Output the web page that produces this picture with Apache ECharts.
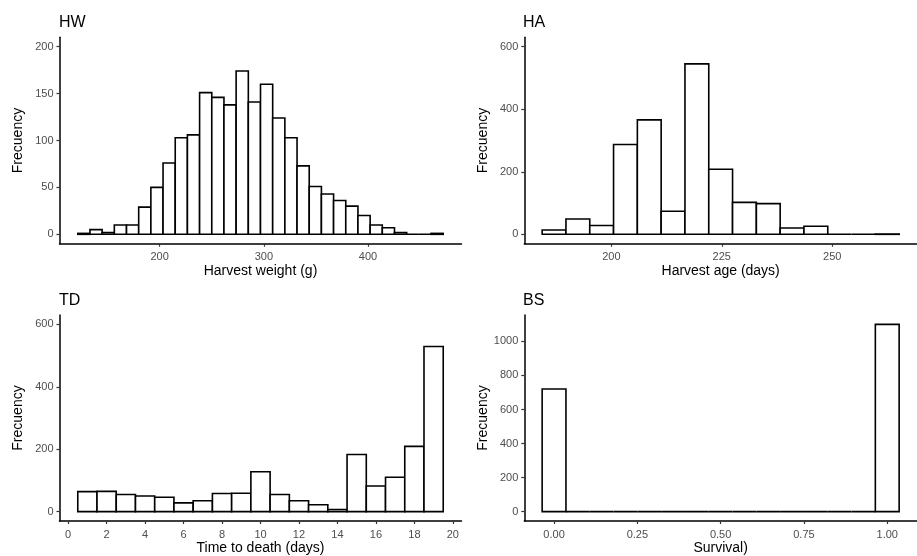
<!DOCTYPE html>
<html>
<head>
<meta charset="utf-8">
<script src="https://cdn.jsdelivr.net/npm/echarts@6/dist/echarts.min.js"></script>
<style>html,body{margin:0;padding:0;background:#fff}#c{width:917px;height:556px}</style>
</head>
<body>
<div id="c"></div>
<script>
// ---- Data ----
const panelTitles = ['HW', 'HA', 'TD', 'BS'];
const xTitles = ['Harvest weight (g)', 'Harvest age (days)', 'Time to death (days)', 'Survival)'];
const yTitle = 'Frecuency';

// HW: 30 bins
const hwBinStart = 121.45;
const hwBinWidth = 11.69;
const hwCounts = [1, 5, 2, 10, 10, 29, 50, 76, 103, 106, 151, 146, 138, 174, 141,
                  160, 124, 103, 73, 51, 43, 36, 30, 20, 10, 7, 2, 0, 0, 1];
const hwXTicks = [200, 300, 400];
const hwYTicks = [0, 50, 100, 150, 200];

// HA: 15 bins
const haBinStart = 184.34;
const haBinWidth = 5.387;
const haCounts = [14, 49, 28, 287, 366, 74, 545, 208, 102, 98, 20, 26, 0, 0, 1];
const haXTicks = [200, 225, 250];
const haYTicks = [0, 200, 400, 600];

// TD: 19 bins of width 1 centred on days 1..19
const tdBinStart = 0.5;
const tdBinWidth = 1;
const tdCounts = [64, 65, 55, 50, 46, 28, 35, 58, 59, 128, 55, 35, 22, 7, 183, 82, 110, 209, 529];
const tdXTicks = [0, 2, 4, 6, 8, 10, 12, 14, 16, 18, 20];
const tdYTicks = [0, 200, 400, 600];

// BS: 15 bins of width 1/14 centred on 0 .. 1
const bsBinStart = -1 / 28;
const bsBinWidth = 1 / 14;
const bsCounts = [720, 0, 0, 0, 0, 0, 0, 0, 0, 0, 0, 0, 0, 0, 1100];
const bsXTicks = [0, 0.25, 0.5, 0.75, 1];
const bsYTicks = [0, 200, 400, 600, 800, 1000];

// ---- Build ----
function bins(start, width, counts) {
  return counts.map((c, i) => [start + i * width, start + (i + 1) * width, c]);
}
const panels = [
  { data: bins(hwBinStart, hwBinWidth, hwCounts), xMin: 103.9, xMax: 489.7, yMin: -10, yMax: 210, xt: hwXTicks, yt: hwYTicks },
  { data: bins(haBinStart, haBinWidth, haCounts), xMin: 180.3, xMax: 269.18, yMin: -30, yMax: 630, xt: haXTicks, yt: haYTicks },
  { data: bins(tdBinStart, tdBinWidth, tdCounts), xMin: -0.45, xMax: 20.45, yMin: -30, yMax: 630, xt: tdXTicks, yt: tdYTicks },
  { data: bins(bsBinStart, bsBinWidth, bsCounts), xMin: -0.0893, xMax: 1.0893, yMin: -55, yMax: 1155, xt: bsXTicks, yt: bsYTicks,
    fmt: v => Number(v).toFixed(2) }
];
const gridPos = [
  { left: 59.5, top: 37.3, width: 402, height: 206.4 },
  { left: 524.3, top: 37.3, width: 402, height: 206.4 },
  { left: 59.5, top: 315, width: 402, height: 207.2 },
  { left: 524.3, top: 315, width: 402, height: 207.2 }
];
const titlePos = [
  { left: 59, top: 15 }, { left: 523, top: 15 }, { left: 59, top: 293 }, { left: 523, top: 293 }
];
const FONT = '"Liberation Sans", Arial, sans-serif';

const option = {
  backgroundColor: '#fff',
  animation: false,
  title: panelTitles.map((t, i) => ({
    text: t, left: titlePos[i].left, top: titlePos[i].top, padding: 0,
    textStyle: { fontSize: 16, fontWeight: 'normal', color: '#000', fontFamily: FONT }
  })),
  grid: gridPos.map(g => Object.assign({ containLabel: false }, g)),
  xAxis: panels.map((p, i) => ({
    gridIndex: i, type: 'value', min: p.xMin, max: p.xMax,
    axisLine: { show: true, onZero: false, lineStyle: { color: '#000', width: 1.5 } },
    axisTick: { show: true, length: 3, customValues: p.xt, lineStyle: { color: '#333', width: 1.2 } },
    axisLabel: { customValues: p.xt, color: '#4d4d4d', fontSize: 11, margin: 8, fontFamily: FONT,
      formatter: p.fmt || (v => String(v)) },
    splitLine: { show: false },
    name: xTitles[i], nameLocation: 'middle', nameGap: 20,
    nameTextStyle: { color: '#000', fontSize: 14, fontFamily: FONT }
  })),
  yAxis: panels.map((p, i) => ({
    gridIndex: i, type: 'value', min: p.yMin, max: p.yMax,
    axisLine: { show: true, onZero: false, lineStyle: { color: '#000', width: 1.5 } },
    axisTick: { show: true, length: 3, customValues: p.yt, lineStyle: { color: '#333', width: 1.2 } },
    axisLabel: { customValues: p.yt, color: '#4d4d4d', fontSize: 11, margin: 6, fontFamily: FONT,
      formatter: v => String(v) },
    splitLine: { show: false },
    name: yTitle, nameLocation: 'middle', nameGap: 34, nameRotate: 90,
    nameTextStyle: { color: '#000', fontSize: 14, fontFamily: FONT }
  })),
  series: panels.map((p, i) => ({
    type: 'custom', xAxisIndex: i, yAxisIndex: i,
    data: p.data,
    encode: { x: [0, 1], y: 2 },
    clip: false,
    renderItem: function (params, api) {
      const a = api.coord([api.value(0), api.value(2)]);
      const b = api.coord([api.value(1), 0]);
      return {
        type: 'rect',
        shape: { x: a[0], y: a[1], width: b[0] - a[0], height: b[1] - a[1] },
        style: { fill: '#fff', stroke: '#000', lineWidth: 1.6 }
      };
    }
  }))
};
const chart = echarts.init(document.getElementById('c'), null, { renderer: 'canvas' });
chart.setOption(option);
</script>
</body>
</html>
